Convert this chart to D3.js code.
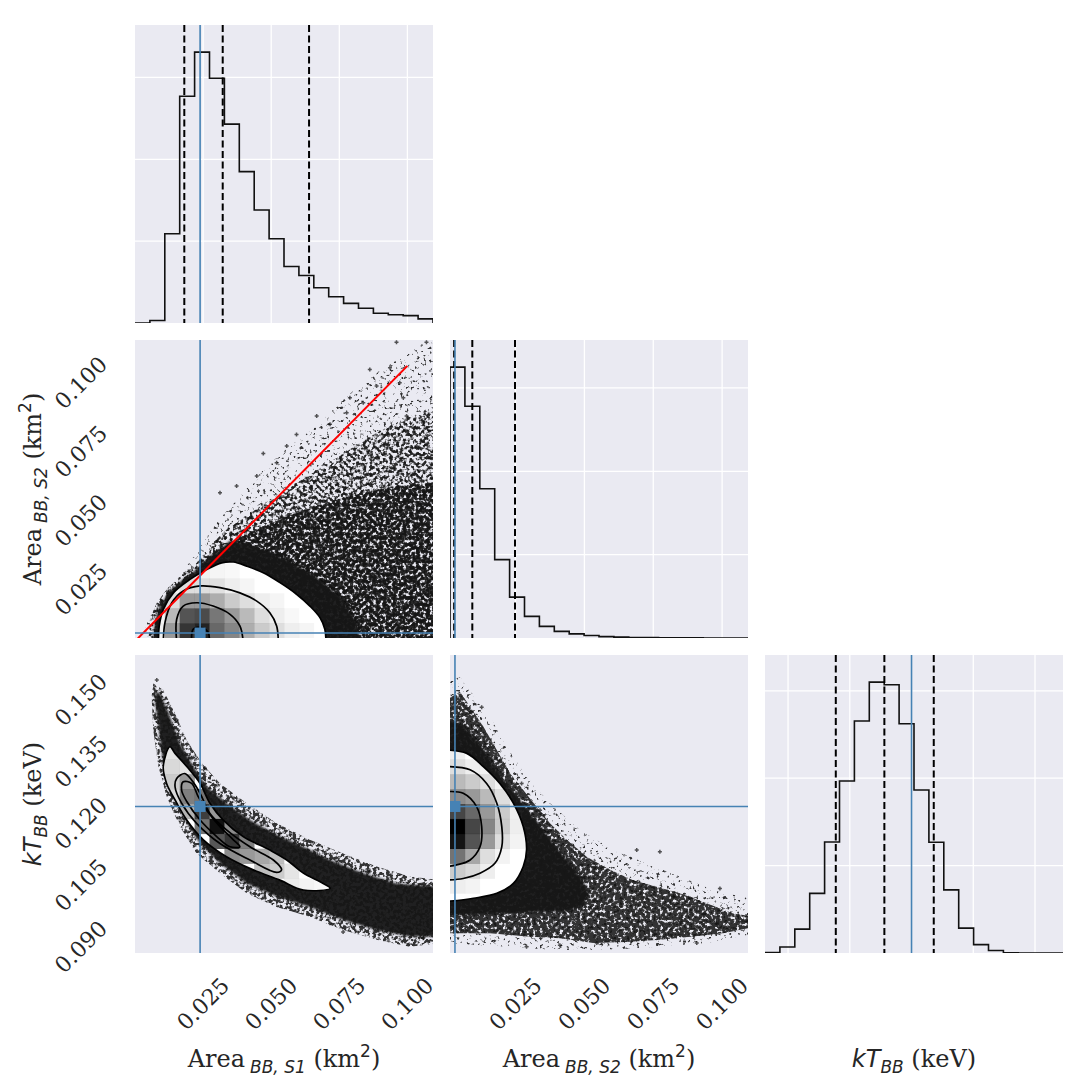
<!DOCTYPE html>
<html>
<head>
<meta charset="utf-8">
<script src="https://cdn.jsdelivr.net/npm/d3@7"></script>
<style>
body { margin: 0; background: #fff; }
</style>
</head>
<body>
<script>
// Parameter ranges (data units)
const rangeS1 = [0.0, 0.1094]
const rangeS2 = [0.0012, 0.1094]
const rangeKT = [0.0844, 0.1568]
const truths = [0.0239, 0.0030, 0.1200]

// Tick values
const ticksArea = [0.025, 0.050, 0.075, 0.100]
const ticksKT = [0.090, 0.105, 0.120, 0.135, 0.150]

// 1D histograms (20 bins over the range, counts in thousands)
const countsS1 = [0, 0.03, 1.09, 2.77, 3.31, 2.99, 2.43, 1.85, 1.38, 1.03, 0.69, 0.58, 0.43, 0.32, 0.24, 0.18, 0.12, 0.10, 0.09, 0.05]
const countsS2 = [3.25, 2.78, 1.79, 0.94, 0.49, 0.26, 0.14, 0.08, 0.05, 0.03, 0.016, 0.01, 0.006, 0.004, 0.003, 0.002, 0.002, 0, 0, 0]
const countsKT = [0.006, 0.068, 0.273, 0.682, 1.271, 1.969, 2.654, 3.10, 3.069, 2.623, 1.866, 1.268, 0.722, 0.285, 0.096, 0.028, 0.003, 0, 0, 0]
const countGrid = [1, 2, 3]

// Quantiles (dashed)
const quantS1 = [0.0181, 0.0322, 0.0639]
const quantS2 = [0.0027, 0.0093, 0.0248]
const quantKT = [0.1016, 0.1134, 0.1254]

// Red reference line in the S1-S2 panel
const redLine = [[0.0, 0.0], [0.100, 0.100]]

// ---- S1 vs S2 panel ----
const sparseS1S2 = [[0.0030,0.0],[0.0043,0.0068],[0.0092,0.0152],[0.0165,0.0237],[0.0226,0.0322],[0.0300,0.0431],[0.0385,0.0527],[0.0471,0.0624],[0.0569,0.0709],[0.0667,0.0782],[0.0777,0.0890],[0.0887,0.0975],[0.0985,0.1036],[0.112,0.112],[0.112,0.0]]
const midS1S2 = [[0.0049,0.0],[0.0055,0.0080],[0.0080,0.0140],[0.0122,0.0195],[0.0177,0.0243],[0.0226,0.0285],[0.0275,0.0346],[0.0336,0.0407],[0.0410,0.0455],[0.0495,0.0515],[0.0593,0.0576],[0.0691,0.0636],[0.0789,0.0697],[0.0887,0.0757],[0.0985,0.0806],[0.112,0.0842],[0.112,0.0]]
const heavyS1S2 = [[0.0067,0.0],[0.0073,0.0068],[0.0092,0.0128],[0.0128,0.0183],[0.0177,0.0225],[0.0226,0.0261],[0.0275,0.0310],[0.0312,0.0334],[0.0349,0.0358],[0.0397,0.0382],[0.0459,0.0412],[0.0520,0.0437],[0.0593,0.0467],[0.0667,0.0491],[0.0740,0.0515],[0.0838,0.0539],[0.0960,0.0564],[0.112,0.0576],[0.112,0.0]]
const coreS1S2 = [[0.0067,0.0],[0.0073,0.0068],[0.0092,0.0128],[0.0128,0.0183],[0.0177,0.0225],[0.0226,0.0261],[0.0275,0.0310],[0.0312,0.0334],[0.0349,0.0365],[0.0410,0.0355],[0.0480,0.0330],[0.0560,0.0295],[0.0640,0.0250],[0.0710,0.0200],[0.0770,0.0140],[0.0810,0.0070],[0.0830,0.0]]
const outS1S2 = [[0.0471,0.0682],[0.0373,0.0564],[0.0557,0.0709],[0.0716,0.0788],[0.0789,0.0884],[0.0887,0.0927],[0.0985,0.0884],[0.0997,0.0818],[0.1034,0.0709],[0.0960,0.1086],[0.1070,0.1086],[0.0936,0.0993],[0.0862,0.0987],[0.0593,0.0751],[0.0667,0.0818],[0.0777,0.0830],[0.0312,0.0539],[0.0447,0.0600],[0.0520,0.0648],[0.0972,0.0939],[0.1058,0.0793],[0.0838,0.0866]]
const contoursS1S2 = [
    [[0.0086,0.0],[0.0089,0.0056],[0.0104,0.0116],[0.0141,0.0176],[0.0202,0.0225],[0.0263,0.0261],[0.0318,0.0285],[0.0361,0.0288],[0.0410,0.0273],[0.0471,0.0249],[0.0532,0.0213],[0.0593,0.0171],[0.0642,0.0128],[0.0679,0.0086],[0.0697,0.0044],[0.0701,0.0]],
    [[0.0104,0.0],[0.0110,0.0068],[0.0135,0.0140],[0.0177,0.0183],[0.0239,0.0201],[0.0312,0.0195],[0.0385,0.0176],[0.0447,0.0146],[0.0495,0.0104],[0.0520,0.0056],[0.0526,0.0]],
    [[0.0153,0.0],[0.0153,0.0080],[0.0177,0.0128],[0.0226,0.0140],[0.0287,0.0128],[0.0349,0.0098],[0.0385,0.0056],[0.0397,0.0]],
    [[0.0208,0.0],[0.0214,0.0044],[0.0245,0.0050],[0.0269,0.0032],[0.0273,0.0]]
]
// [x bin, y bin, relative density]
const cellsS1S2 = [
    [1,0,0.25],[2,0,0.63],[3,0,0.89],[4,0,0.93],[5,0,0.77],[6,0,0.69],[7,0,0.57],[8,0,0.45],[9,0,0.36],[10,0,0.26],[11,0,0.2],
    [1,1,0.2],[2,1,0.52],[3,1,0.82],[4,1,0.84],[5,1,0.73],[6,1,0.63],[7,1,0.52],[8,1,0.36],[9,1,0.26],[10,1,0.17],
    [2,2,0.36],[3,2,0.63],[4,2,0.63],[5,2,0.57],[6,2,0.45],[7,2,0.36],[8,2,0.26],[9,2,0.2],
    [2,3,0.2],[3,3,0.36],[4,3,0.36],[5,3,0.35],[6,3,0.26],[7,3,0.2],
    [3,4,0.2],[4,4,0.24],[5,4,0.2],[6,4,0.17]
]

// ---- S1 vs kT panel ----
const fringeS1KT = [[0.0067,0.1499],[0.0104,0.1483],[0.0147,0.1426],[0.0190,0.1361],[0.0245,0.1305],[0.0312,0.1256],[0.0410,0.1208],[0.0520,0.1159],[0.0642,0.1119],[0.0764,0.1086],[0.0887,0.1054],[0.1009,0.1030],[0.112,0.1021],[0.112,0.0868],[0.1009,0.0859],[0.0887,0.0876],[0.0764,0.0900],[0.0642,0.0932],[0.0520,0.0956],[0.0410,0.0989],[0.0312,0.1038],[0.0226,0.1086],[0.0165,0.1151],[0.0116,0.1224],[0.0086,0.1297],[0.0067,0.1386],[0.0061,0.1467]]
const coreS1KT = [[0.0077,0.1479],[0.0092,0.1475],[0.0128,0.1418],[0.0165,0.1353],[0.0214,0.1297],[0.0263,0.1248],[0.0336,0.1208],[0.0422,0.1167],[0.0520,0.1131],[0.0618,0.1102],[0.0716,0.1070],[0.0838,0.1038],[0.0960,0.1013],[0.112,0.1005],[0.112,0.0884],[0.1009,0.0884],[0.0887,0.0900],[0.0764,0.0924],[0.0642,0.0956],[0.0520,0.0981],[0.0410,0.1013],[0.0312,0.1062],[0.0239,0.1110],[0.0177,0.1175],[0.0128,0.1240],[0.0104,0.1305],[0.0086,0.1394],[0.0073,0.1459]]
const outS1KT = [[0.0080,0.1507],[0.0153,0.1410],[0.0257,0.1293],[0.0532,0.1135],[0.0862,0.1042],[0.1083,0.1001],[0.0764,0.0895],[0.1058,0.0880],[0.0716,0.0916]]
const contoursS1KT = [
    [[0.0128,0.1345],[0.0147,0.1329],[0.0190,0.1297],[0.0239,0.1256],[0.0275,0.1208],[0.0324,0.1167],[0.0397,0.1127],[0.0495,0.1094],[0.0557,0.1070],[0.0618,0.1038],[0.0691,0.1013],[0.0716,0.1001],[0.0618,0.0997],[0.0532,0.1021],[0.0434,0.1046],[0.0336,0.1078],[0.0251,0.1119],[0.0190,0.1167],[0.0147,0.1216],[0.0116,0.1256],[0.0104,0.1297]],
    [[0.0183,0.1280],[0.0208,0.1264],[0.0239,0.1232],[0.0275,0.1183],[0.0336,0.1143],[0.0422,0.1102],[0.0508,0.1070],[0.0538,0.1046],[0.0520,0.1040],[0.0422,0.1070],[0.0312,0.1110],[0.0226,0.1159],[0.0171,0.1208],[0.0147,0.1248],[0.0153,0.1268]],
    [[0.0177,0.1260],[0.0208,0.1256],[0.0232,0.1224],[0.0263,0.1191],[0.0312,0.1151],[0.0361,0.1119],[0.0385,0.1102],[0.0349,0.1102],[0.0300,0.1127],[0.0239,0.1167],[0.0190,0.1212],[0.0171,0.1240]]
]
const cellsS1KT = [
    [2,13,0.32],[2,12,0.39],[2,11,0.45],[2,10,0.39],
    [3,12,0.32],[3,11,0.63],[3,10,0.71],[3,9,0.55],
    [4,10,0.74],[4,9,0.87],[4,8,0.74],
    [5,9,0.63],[5,8,0.97],[5,7,0.81],
    [6,8,0.67],[6,7,0.89],[6,6,0.67],
    [7,7,0.71],[7,6,0.63],
    [8,6,0.59],[8,5,0.5],
    [9,6,0.5],[9,5,0.45],
    [10,5,0.32],[10,4,0.28],
    [11,4,0.22],[12,4,0.17]
]

// ---- S2 vs kT panel ----
const sparseS2KT = [[0.0,0.1499],[0.0048,0.1515],[0.0097,0.1475],[0.0157,0.1418],[0.0218,0.1345],[0.0290,0.1272],[0.0375,0.1208],[0.0484,0.1143],[0.0605,0.1094],[0.0726,0.1062],[0.0847,0.1029],[0.0968,0.0997],[0.112,0.0973],[0.112,0.0892],[0.0944,0.0868],[0.0762,0.0859],[0.0581,0.0851],[0.0399,0.0851],[0.0218,0.0859],[0.0,0.0868]]
const heavyS2KT = [[0.0,0.1459],[0.0048,0.1479],[0.0085,0.1442],[0.0133,0.1394],[0.0182,0.1337],[0.0230,0.1281],[0.0278,0.1240],[0.0327,0.1199],[0.0375,0.1159],[0.0436,0.1119],[0.0508,0.1078],[0.0593,0.1046],[0.0677,0.1021],[0.0762,0.1005],[0.0847,0.0989],[0.0944,0.0965],[0.1040,0.0940],[0.112,0.0932],[0.112,0.0908],[0.1004,0.0892],[0.0895,0.0884],[0.0774,0.0876],[0.0653,0.0871],[0.0532,0.0868],[0.0411,0.0880],[0.0290,0.0884],[0.0157,0.0892],[0.0,0.0892]]
const coreS2KT = [[0.0,0.1410],[0.0060,0.1398],[0.0109,0.1362],[0.0157,0.1315],[0.0205,0.1266],[0.0254,0.1226],[0.0302,0.1185],[0.0351,0.1143],[0.0399,0.1100],[0.0450,0.1060],[0.0495,0.1020],[0.0515,0.0985],[0.0495,0.0958],[0.0436,0.0946],[0.0314,0.0942],[0.0193,0.0940],[0.0073,0.0936],[0.0,0.0936]]
const outS2KT = [[0.0127,0.1441],[0.0085,0.1430],[0.0272,0.1256],[0.0339,0.1191],[0.0690,0.1094],[0.0774,0.1090],[0.0992,0.1001],[0.0980,0.0916],[0.1089,0.0932],[0.0290,0.0859],[0.0411,0.0863],[0.0545,0.0868],[0.0908,0.0868],[0.0823,0.0981],[0.0883,0.0977]]
const contoursS2KT = [
    [[0.0,0.1337],[0.0073,0.1329],[0.0133,0.1297],[0.0193,0.1256],[0.0242,0.1208],[0.0278,0.1151],[0.0290,0.1094],[0.0278,0.1054],[0.0242,0.1013],[0.0182,0.0989],[0.0097,0.0977],[0.0,0.0969]],
    [[0.0,0.1297],[0.0085,0.1289],[0.0145,0.1256],[0.0182,0.1208],[0.0200,0.1151],[0.0200,0.1102],[0.0175,0.1062],[0.0121,0.1038],[0.0060,0.1025],[0.0,0.1021]],
    [[0.0,0.1236],[0.0060,0.1232],[0.0109,0.1199],[0.0127,0.1151],[0.0121,0.1102],[0.0085,0.1070],[0.0036,0.1058],[0.0,0.1054]]
]
const cellsS2KT = [
    [0,4,0.26],[0,5,0.45],[0,6,0.74],[0,7,0.96],[0,8,1.0],[0,9,0.85],[0,10,0.67],[0,11,0.52],[0,12,0.36],[0,13,0.26],
    [1,4,0.22],[1,5,0.39],[1,6,0.59],[1,7,0.82],[1,8,0.85],[1,9,0.77],[1,10,0.63],[1,11,0.45],[1,12,0.26],
    [2,5,0.26],[2,6,0.36],[2,7,0.63],[2,8,0.69],[2,9,0.63],[2,10,0.52],[2,11,0.36],[2,12,0.22],
    [3,6,0.22],[3,7,0.36],[3,8,0.45],[3,9,0.45],[3,10,0.36],[3,11,0.22],
    [4,7,0.22],[4,8,0.26],[4,9,0.26],[4,10,0.2]
]

// Labels
const labelS1 = [['Area', 'rm'], ['BB, S1', 'sub', 5], [' (km', 'rm'], ['2', 'sup'], [')', 'rm']]
const labelS2 = [['Area', 'rm'], ['BB, S2', 'sub', 5], [' (km', 'rm'], ['2', 'sup'], [')', 'rm']]
const labelKT = [['kT', 'it'], ['BB', 'sub'], [' (keV)', 'rm']]

// Layout / style
const panelSize = 298
const colX = [135, 450, 765]
const rowY = [25, 340, 655]
const bgColor = '#eaeaf2'
const truthColor = '#4682b4'
const textColor = '#262626'
const nBins = 20

const varRanges = [rangeS1, rangeS2, rangeKT]
const varTicks = [ticksArea, ticksArea, ticksKT]
const varCounts = [countsS1, countsS2, countsKT]
const varQuants = [quantS1, quantS2, quantKT]
const varLabels = [labelS1, labelS2, labelKT]

const xScale = (k, col) => d3.scaleLinear().domain(varRanges[k]).range([colX[col], colX[col] + panelSize])
const yScale = (k, row) => d3.scaleLinear().domain(varRanges[k]).range([rowY[row] + panelSize, rowY[row]])

const svg = d3.select('body').append('svg')
    .attr('width', 1090)
    .attr('height', 1090)
const defs = svg.append('defs')

// speckle textures standing in for the dense sample cloud
function speckle(id, slope, intercept) {
    const f = defs.append('filter').attr('id', id)
        .attr('x', '-5%').attr('y', '-5%').attr('width', '110%').attr('height', '110%')
        .attr('color-interpolation-filters', 'sRGB')
    f.append('feTurbulence').attr('type', 'fractalNoise').attr('baseFrequency', 0.3)
        .attr('numOctaves', 2).attr('seed', 5).attr('result', 'noise')
    f.append('feColorMatrix').attr('in', 'noise').attr('type', 'matrix')
        .attr('values', `0 0 0 0 0  0 0 0 0 0  0 0 0 0 0  ${slope} 0 0 0 ${intercept}`)
        .attr('result', 'mask')
    f.append('feComposite').attr('in', 'SourceGraphic').attr('in2', 'mask').attr('operator', 'in')
}
speckle('sp-sparse', 7, -4.2)
speckle('sp-mid', 6, -2.5)
speckle('sp-heavy', 6, -1.7)
defs.append('filter').attr('id', 'soft')
    .append('feGaussianBlur').attr('stdDeviation', 0.8)

function makePanel(col, row) {
    const id = `clip-${col}-${row}`
    defs.append('clipPath').attr('id', id)
        .append('rect').attr('x', colX[col]).attr('y', rowY[row])
        .attr('width', panelSize).attr('height', panelSize)
    const g = svg.append('g').attr('clip-path', `url(#${id})`)
    g.append('rect').attr('x', colX[col]).attr('y', rowY[row])
        .attr('width', panelSize).attr('height', panelSize).attr('fill', bgColor)
    return g
}

// ---- diagonal histograms ----
function drawHist(k) {
    const g = makePanel(k, k)
    const x = xScale(k, k)
    const counts = varCounts[k]
    const y = d3.scaleLinear().domain([0, 1.1 * d3.max(counts)]).range([rowY[k] + panelSize, rowY[k]])
    const top = rowY[k], bottom = rowY[k] + panelSize

    g.selectAll('.vgrid').data(varTicks[k]).join('line')
        .attr('x1', d => x(d)).attr('x2', d => x(d)).attr('y1', top).attr('y2', bottom)
        .attr('stroke', '#fff').attr('stroke-width', 1.3)
    g.selectAll('.hgrid').data(countGrid).join('line')
        .attr('x1', colX[k]).attr('x2', colX[k] + panelSize).attr('y1', d => y(d)).attr('y2', d => y(d))
        .attr('stroke', '#fff').attr('stroke-width', 1.3)

    const [lo, hi] = varRanges[k]
    const bw = (hi - lo) / nBins
    const pts = [[lo, 0]]
    counts.forEach((c, i) => { pts.push([lo + i * bw, c]); pts.push([lo + (i + 1) * bw, c]) })
    pts.push([hi, 0])
    g.append('path')
        .attr('d', d3.line().x(d => x(d[0])).y(d => y(d[1]))(pts))
        .attr('fill', 'none').attr('stroke', '#111').attr('stroke-width', 1.6)

    g.selectAll('.quant').data(varQuants[k]).join('line')
        .attr('x1', d => x(d)).attr('x2', d => x(d)).attr('y1', top).attr('y2', bottom)
        .attr('stroke', '#000').attr('stroke-width', 2).attr('stroke-dasharray', '7,3.5')

    g.append('line')
        .attr('x1', x(truths[k])).attr('x2', x(truths[k])).attr('y1', top).attr('y2', bottom)
        .attr('stroke', truthColor).attr('stroke-width', 1.6)
}

// ---- off-diagonal 2D panels ----
const pairSpecs = [
    { col: 0, row: 1, layers: [[sparseS1S2, 'sp-sparse'], [midS1S2, 'sp-mid'], [heavyS1S2, 'sp-heavy'], [coreS1S2, 'soft']],
      outliers: outS1S2, contours: contoursS1S2, closed: false, cells: cellsS1S2, red: true },
    { col: 0, row: 2, layers: [[fringeS1KT, 'sp-mid'], [coreS1KT, 'soft']],
      outliers: outS1KT, contours: contoursS1KT, closed: true, cells: cellsS1KT, red: false },
    { col: 1, row: 2, layers: [[sparseS2KT, 'sp-sparse'], [heavyS2KT, 'sp-heavy'], [coreS2KT, 'soft']],
      outliers: outS2KT, contours: contoursS2KT, closed: false, cells: cellsS2KT, red: false }
]

function drawPair(spec, idx) {
    const { col, row } = spec
    const g = makePanel(col, row)
    const x = xScale(col, col)
    const y = yScale(row, row)
    const poly = d3.line().x(d => x(d[0])).y(d => y(d[1])).curve(d3.curveLinearClosed)
    const smooth = d3.line().x(d => x(d[0])).y(d => y(d[1]))
        .curve(spec.closed ? d3.curveCatmullRomClosed.alpha(0.5) : d3.curveCatmullRom.alpha(0.5))

    spec.layers.forEach(([pts, filt]) => {
        g.append('path').attr('d', poly(pts))
            .attr('fill', '#141414')
            .attr('opacity', filt === 'soft' ? 0.95 : 0.85)
            .attr('filter', `url(#${filt})`)
    })

    g.selectAll('.out').data(spec.outliers).join('path')
        .attr('transform', d => `translate(${x(d[0])},${y(d[1])})`)
        .attr('d', 'M-2,0H2M0,-2V2')
        .attr('stroke', '#111').attr('stroke-width', 1.5).attr('opacity', 0.7)

    // white fill inside the outermost contour
    const outerD = smooth(spec.contours[0])
    g.append('path').attr('d', outerD).attr('fill', '#fff')

    // density cells, clipped to the outer contour
    const cid = `cells-${idx}`
    defs.append('clipPath').attr('id', cid).append('path').attr('d', outerD)
    const [xlo, xhi] = varRanges[col]
    const [ylo, yhi] = varRanges[row]
    const bwx = (xhi - xlo) / nBins, bwy = (yhi - ylo) / nBins
    g.append('g').attr('clip-path', `url(#${cid})`)
        .selectAll('rect').data(spec.cells).join('rect')
        .attr('x', d => x(xlo + d[0] * bwx))
        .attr('width', x(xlo + bwx) - x(xlo) + 0.3)
        .attr('y', d => y(ylo + (d[1] + 1) * bwy))
        .attr('height', y(ylo) - y(ylo + bwy) + 0.3)
        .attr('fill', d => { const v = Math.round(255 * (1 - d[2])); return `rgb(${v},${v},${v})` })
        .attr('fill-opacity', d => d[2])

    g.selectAll('.contour').data(spec.contours).join('path')
        .attr('d', d => smooth(d))
        .attr('fill', 'none').attr('stroke', '#000').attr('stroke-width', 1.7)

    if (spec.red) {
        g.append('path').attr('d', d3.line().x(d => x(d[0])).y(d => y(d[1]))(redLine))
            .attr('stroke', '#ff0000').attr('stroke-width', 2).attr('fill', 'none')
    }

    const tx = x(truths[col]), ty = y(truths[row])
    g.append('line').attr('x1', tx).attr('x2', tx).attr('y1', rowY[row]).attr('y2', rowY[row] + panelSize)
        .attr('stroke', truthColor).attr('stroke-width', 1.6)
    g.append('line').attr('x1', colX[col]).attr('x2', colX[col] + panelSize).attr('y1', ty).attr('y2', ty)
        .attr('stroke', truthColor).attr('stroke-width', 1.6)
    g.append('rect').attr('x', tx - 5.5).attr('y', ty - 5.5).attr('width', 11).attr('height', 11)
        .attr('fill', truthColor)
}

d3.range(3).forEach(drawHist)
pairSpecs.forEach(drawPair)

// ---- tick labels ----
const fmt = d3.format('.3f')
const axisG = svg.append('g').attr('font-family', 'DejaVu Serif').attr('font-size', 22).attr('fill', textColor)

;[0, 1].forEach(col => {
    const x = xScale(col, col)
    axisG.append('g').selectAll('text').data(varTicks[col]).join('text')
        .attr('transform', d => `translate(${x(d)},1004) rotate(-45)`)
        .attr('text-anchor', 'middle').attr('dominant-baseline', 'central')
        .text(fmt)
})
;[1, 2].forEach(row => {
    const y = yScale(row, row)
    axisG.append('g').selectAll('text').data(varTicks[row]).join('text')
        .attr('transform', d => `translate(81,${y(d) + 17}) rotate(-45)`)
        .attr('text-anchor', 'middle').attr('dominant-baseline', 'central')
        .text(fmt)
})

// ---- axis labels with sub/superscripts ----
function richText(text, parts) {
    let shift = 0
    parts.forEach(([t, s, dx]) => {
        const target = s === 'sub' ? 6 : s === 'sup' ? -10 : 0
        const ts = text.append('tspan').attr('dy', target - shift).text(t)
        if (dx) ts.attr('dx', dx)
        shift = target
        if (s === 'rm') ts.attr('font-family', 'DejaVu Serif').attr('font-size', 24)
        else if (s === 'it') ts.attr('font-family', 'DejaVu Sans').attr('font-style', 'italic').attr('font-size', 24)
        else if (s === 'sub') ts.attr('font-family', 'DejaVu Sans').attr('font-style', 'italic').attr('font-size', 17)
        else ts.attr('font-family', 'DejaVu Sans').attr('font-size', 17)
    })
}

d3.range(3).forEach(k => {
    const t = svg.append('text')
        .attr('x', colX[k] + panelSize / 2).attr('y', 1067)
        .attr('text-anchor', 'middle').attr('fill', textColor)
        .style('white-space', 'pre')
    richText(t, varLabels[k])
})
;[1, 2].forEach(row => {
    const t = svg.append('text')
        .attr('transform', `translate(41,${rowY[row] + panelSize / 2}) rotate(-90)`)
        .attr('text-anchor', 'middle').attr('fill', textColor)
        .style('white-space', 'pre')
    richText(t, varLabels[row])
})
</script>
</body>
</html>
